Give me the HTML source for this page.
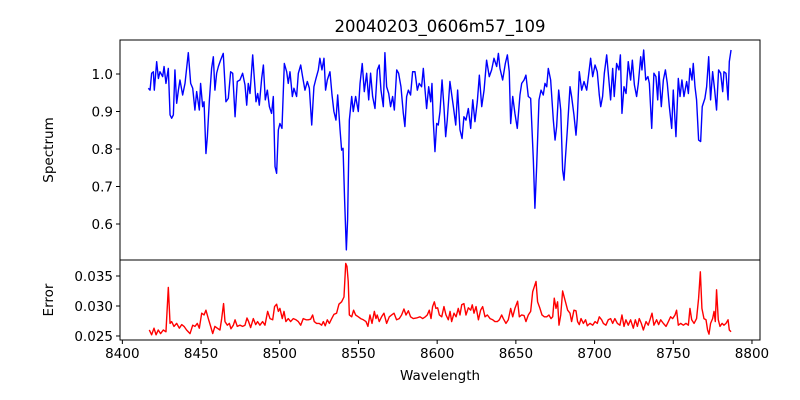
<!DOCTYPE html>
<html><head><meta charset="utf-8"><style>
body{margin:0;background:#fff;}
svg{display:block;font-family:"DejaVu Sans","Liberation Sans",sans-serif;}
</style></head><body>
<svg id="chart" width="800" height="400" viewBox="0 0 800 400" xmlns="http://www.w3.org/2000/svg">
<rect width="800" height="400" fill="#fff"/>
<text x="440" y="32" font-size="16.5" text-anchor="middle" fill="#000">20040203_0606m57_109</text>
<text transform="translate(53,150) rotate(-90)" font-size="13.5" text-anchor="middle">Spectrum</text>
<text transform="translate(53,300) rotate(-90)" font-size="13.5" text-anchor="middle">Error</text>
<text x="440" y="380" font-size="13.5" text-anchor="middle">Wavelength</text>
<g id="marks"></g>
</svg>
<script>
const specWave=[8416.5,8417.6,8418.6,8419.7,8420.3,8421.8,8422.9,8423.9,8425.6,8426.5,8427.7,8429.2,8430.3,8431.3,8432.4,8433.4,8434.5,8435.6,8436.6,8438.3,8439.8,8441.9,8443.4,8444.7,8446.1,8447.2,8448.9,8449.7,8451.0,8451.9,8453.1,8454.0,8455.3,8456.7,8457.8,8458.8,8459.9,8461.0,8462.4,8464.1,8465.8,8467.3,8468.8,8470.1,8471.6,8473.0,8474.7,8476.4,8477.9,8479.0,8480.0,8481.1,8482.8,8483.6,8484.9,8486.0,8487.0,8488.5,8489.6,8490.8,8492.1,8493.4,8494.8,8495.9,8497.0,8498.0,8499.1,8500.1,8501.4,8502.9,8504.4,8505.4,8506.5,8508.0,8509.0,8510.7,8511.8,8513.3,8514.5,8516.0,8517.5,8518.8,8520.3,8521.7,8523.0,8524.5,8525.5,8526.8,8528.1,8529.1,8530.2,8531.9,8533.2,8534.4,8535.7,8536.8,8538.3,8539.3,8540.2,8541.2,8542.3,8543.1,8544.2,8545.7,8546.7,8548.2,8549.9,8551.0,8552.4,8553.7,8555.2,8556.5,8557.7,8559.0,8560.5,8562.0,8563.2,8564.3,8565.8,8566.8,8567.9,8569.2,8570.4,8571.7,8572.8,8574.3,8575.5,8577.0,8578.5,8579.5,8580.6,8581.7,8583.1,8584.4,8585.9,8587.4,8588.6,8590.1,8591.2,8592.2,8593.3,8594.6,8595.9,8596.7,8597.5,8598.6,8599.7,8600.7,8601.8,8603.1,8604.3,8605.4,8606.4,8608.1,8610.3,8611.8,8613.0,8614.5,8615.8,8617.0,8618.3,8619.8,8621.3,8622.6,8624.0,8625.5,8626.8,8628.3,8629.8,8631.4,8633.1,8634.6,8636.1,8637.8,8638.9,8639.9,8641.6,8643.3,8644.6,8645.8,8646.7,8648.0,8649.4,8650.9,8652.6,8653.7,8655.2,8656.4,8657.9,8659.4,8661.1,8662.1,8663.2,8664.7,8666.0,8667.4,8668.5,8669.6,8670.6,8672.1,8673.8,8674.9,8675.9,8677.2,8678.5,8679.7,8680.6,8681.4,8682.7,8684.4,8685.4,8686.9,8688.2,8689.0,8690.3,8691.8,8693.3,8695.0,8696.2,8697.5,8698.8,8700.3,8701.7,8703.0,8703.9,8705.1,8706.2,8707.7,8708.9,8710.2,8711.5,8712.5,8714.0,8715.5,8716.4,8717.4,8718.7,8720.0,8721.4,8722.9,8724.0,8725.3,8726.7,8727.8,8729.3,8730.1,8731.2,8732.5,8733.9,8734.8,8736.3,8737.7,8739.0,8740.1,8740.9,8742.4,8743.7,8745.0,8746.2,8747.5,8749.0,8750.0,8751.7,8753.2,8754.3,8755.5,8756.8,8758.5,8759.6,8760.6,8761.9,8762.7,8763.8,8764.8,8766.1,8767.4,8768.4,8770.1,8771.2,8772.5,8773.7,8775.0,8776.3,8777.5,8778.8,8780.1,8781.4,8782.2,8783.5,8784.8,8785.6,8786.7];
const specFlux=[0.962,0.957,1.002,1.006,0.957,1.033,0.988,1.006,0.993,1.02,0.975,1.015,0.891,0.882,0.891,1.011,0.922,0.957,0.984,0.944,0.975,1.057,0.975,0.962,0.904,0.953,0.904,0.975,0.913,0.926,0.788,0.833,0.931,1.015,1.046,0.957,1.002,1.02,1.037,1.055,0.926,0.935,1.006,1.002,0.886,0.98,0.984,1.002,0.971,0.917,0.975,0.948,1.051,1.002,0.926,0.948,0.917,0.988,1.024,0.931,0.957,0.913,0.895,0.94,0.753,0.735,0.851,0.868,0.855,1.028,1.006,0.975,1.006,0.94,0.962,0.94,1.002,1.024,0.993,0.957,0.98,0.962,0.864,0.966,0.988,1.011,1.042,1.011,1.042,0.957,0.984,1.006,0.944,0.9,0.877,0.944,0.851,0.797,0.802,0.664,0.531,0.611,0.877,0.94,0.9,0.94,0.9,0.975,1.028,0.953,1.002,0.931,1.002,0.94,0.908,1.011,1.024,0.957,0.913,1.057,0.966,0.948,0.913,0.94,0.904,1.011,1.002,0.966,0.895,0.86,0.94,0.957,0.944,1.006,1.006,0.957,0.975,0.966,1.015,0.962,0.908,0.966,0.926,0.975,0.877,0.793,0.868,0.864,0.9,0.984,0.913,0.833,0.877,0.98,0.913,0.864,0.957,0.851,0.828,0.886,0.877,0.908,0.855,0.931,0.873,0.926,0.997,0.913,0.957,1.037,0.993,1.011,1.042,1.02,1.055,1.015,0.984,1.028,1.051,1.006,0.868,0.94,0.895,0.855,0.944,0.975,0.984,0.997,0.94,0.935,0.771,0.642,0.753,0.931,0.957,0.944,0.975,0.966,1.015,0.984,0.877,0.824,0.86,0.957,0.904,0.744,0.717,0.771,0.851,0.966,0.94,0.891,0.837,0.882,1.006,0.957,0.98,0.957,0.997,1.042,0.993,1.024,1.006,0.944,0.913,0.94,1.002,1.051,0.993,0.931,1.015,0.94,1.028,1.011,1.051,0.895,0.966,0.948,1.033,0.984,1.037,0.971,0.94,0.975,1.046,1.011,1.064,0.984,0.993,0.975,0.855,1.002,0.993,0.931,1.006,0.913,0.984,1.011,0.975,0.913,0.855,0.957,0.833,0.988,0.94,0.984,0.94,0.98,0.948,1.015,0.984,1.028,0.966,0.931,0.824,0.82,0.913,0.935,0.966,1.046,0.931,1.006,0.957,0.904,1.011,1.002,0.953,1.006,1.002,0.931,1.033,1.064];
const errWave=[8417.1,8418.6,8420.1,8421.4,8422.8,8424.3,8426.0,8427.7,8429.2,8430.3,8431.3,8432.8,8434.5,8436.2,8437.7,8439.2,8440.8,8443.0,8444.7,8446.1,8447.6,8448.9,8450.4,8451.9,8453.1,8454.6,8456.1,8457.4,8458.8,8460.3,8462.0,8463.1,8464.3,8465.2,8466.7,8468.0,8469.0,8470.5,8471.6,8473.0,8474.7,8476.4,8477.9,8479.2,8480.2,8481.5,8483.2,8484.7,8485.9,8487.4,8489.1,8490.6,8492.3,8493.8,8495.5,8496.7,8498.0,8499.1,8500.1,8501.6,8502.7,8503.9,8505.4,8506.9,8508.6,8510.3,8511.8,8513.3,8514.9,8516.7,8518.1,8519.6,8520.9,8521.9,8523.4,8525.1,8526.6,8527.7,8528.9,8530.2,8531.5,8533.0,8534.4,8536.1,8537.6,8539.3,8540.8,8541.9,8542.7,8543.5,8544.2,8545.7,8546.9,8548.2,8549.9,8551.4,8553.1,8554.8,8556.0,8557.3,8558.6,8560.1,8561.1,8561.9,8563.2,8564.7,8566.2,8567.9,8569.6,8571.1,8572.6,8574.2,8575.9,8577.4,8578.9,8580.2,8581.7,8583.1,8584.8,8586.9,8589.1,8590.8,8592.5,8593.7,8595.0,8596.1,8597.1,8598.2,8599.2,8600.3,8601.4,8602.9,8604.3,8605.6,8607.1,8608.2,8609.2,8610.7,8612.0,8613.4,8614.5,8615.6,8617.0,8618.3,8619.8,8621.3,8622.3,8623.4,8624.7,8626.2,8627.6,8628.9,8630.4,8631.9,8633.6,8635.3,8636.7,8638.2,8639.5,8641.0,8642.0,8643.7,8645.2,8646.7,8648.0,8649.4,8651.1,8652.2,8653.7,8655.2,8656.4,8657.9,8659.4,8660.7,8661.7,8662.8,8663.8,8665.3,8666.6,8668.1,8669.6,8671.0,8672.3,8673.4,8674.4,8675.5,8676.5,8677.4,8678.5,8679.7,8680.6,8681.8,8682.9,8684.4,8685.4,8686.9,8688.2,8689.2,8690.3,8691.4,8692.9,8694.3,8695.4,8697.1,8698.8,8700.3,8701.7,8703.0,8704.5,8705.6,8707.2,8708.7,8710.2,8711.5,8712.9,8714.5,8716.1,8717.4,8718.7,8719.9,8721.4,8722.9,8724.6,8725.9,8727.2,8728.4,8729.7,8731.0,8732.7,8734.1,8735.2,8736.5,8737.7,8739.4,8740.7,8742.0,8743.7,8745.4,8746.9,8748.3,8749.6,8751.1,8752.1,8753.2,8754.7,8756.4,8758.1,8759.6,8760.6,8761.7,8763.2,8764.8,8766.1,8767.2,8768.2,8769.5,8770.8,8771.8,8772.7,8773.7,8775.0,8775.9,8776.7,8777.5,8778.6,8779.7,8781.0,8782.2,8783.5,8784.8,8785.6,8786.7];
const errVal=[0.0260,0.0252,0.0263,0.0252,0.0260,0.0254,0.0260,0.0257,0.0331,0.0271,0.0274,0.0266,0.0271,0.0263,0.0269,0.0266,0.0260,0.0254,0.0268,0.0266,0.0271,0.0263,0.0288,0.0285,0.0293,0.0279,0.0266,0.0254,0.0266,0.0263,0.0260,0.0279,0.0304,0.0274,0.0268,0.0271,0.0262,0.0268,0.0277,0.0266,0.0268,0.0266,0.0268,0.0280,0.0274,0.0264,0.0279,0.0269,0.0274,0.0268,0.0274,0.0268,0.0291,0.0279,0.0277,0.0299,0.0303,0.0291,0.0296,0.0279,0.0291,0.0274,0.0279,0.0274,0.0279,0.0277,0.0274,0.0268,0.0279,0.0277,0.0277,0.0278,0.0285,0.0274,0.0271,0.0271,0.0268,0.0274,0.0267,0.0277,0.0271,0.0279,0.0286,0.0288,0.0303,0.0307,0.0315,0.0371,0.0366,0.0341,0.0285,0.0282,0.0293,0.0285,0.0282,0.0279,0.0277,0.0274,0.0266,0.0285,0.0271,0.0291,0.0279,0.0285,0.0274,0.0282,0.0288,0.0271,0.0282,0.0285,0.0288,0.0277,0.0279,0.0285,0.0295,0.0285,0.0292,0.0282,0.0279,0.0280,0.0282,0.0279,0.0282,0.0285,0.0293,0.0279,0.0299,0.0307,0.0296,0.0297,0.0285,0.0282,0.0299,0.0285,0.0277,0.0291,0.0274,0.0288,0.0282,0.0296,0.0285,0.0302,0.0304,0.0285,0.0297,0.0293,0.0302,0.0288,0.0299,0.0277,0.0293,0.0299,0.0282,0.0285,0.0279,0.0277,0.0274,0.0274,0.0277,0.0285,0.0279,0.0271,0.0277,0.0296,0.0282,0.0296,0.0308,0.0282,0.0285,0.0284,0.0274,0.0285,0.0291,0.0324,0.0332,0.0341,0.0307,0.0296,0.0285,0.0282,0.0282,0.0285,0.0279,0.0282,0.0313,0.0296,0.0307,0.0268,0.0285,0.0325,0.0316,0.0304,0.0293,0.0288,0.0274,0.0293,0.0292,0.0274,0.0269,0.0279,0.0271,0.0277,0.0267,0.0271,0.0268,0.0274,0.0271,0.0282,0.0277,0.0271,0.0268,0.0277,0.0279,0.0271,0.0279,0.0271,0.0268,0.0285,0.0266,0.0277,0.0268,0.0277,0.0263,0.0277,0.0266,0.0279,0.0271,0.0260,0.0274,0.0268,0.0277,0.0288,0.0268,0.0277,0.0269,0.0277,0.0271,0.0266,0.0274,0.0282,0.0279,0.0285,0.0293,0.0268,0.0271,0.0268,0.0271,0.0268,0.0296,0.0277,0.0271,0.0279,0.0313,0.0357,0.0296,0.0279,0.0277,0.0260,0.0253,0.0271,0.0279,0.0291,0.0274,0.0327,0.0277,0.0266,0.0271,0.0268,0.0271,0.0277,0.0260,0.0257];
const xTicks=[8400,8450,8500,8550,8600,8650,8700,8750,8800];
const specTicks=[0.6,0.7,0.8,0.9,1.0];
const specTickLabels=["0.6","0.7","0.8","0.9","1.0"];
const errTicks=[0.025,0.030,0.035];
const errTickLabels=["0.025","0.030","0.035"];

const NS="http://www.w3.org/2000/svg";
const L=120,R=760;
const xMin=8398.5,xMax=8805.1;
const top1=40,bot1=260,yMin1=0.504,yMax1=1.0907;
const top2=260,bot2=340,yMin2=0.02433,yMax2=0.03767;
const sx=v=>L+(v-xMin)/(xMax-xMin)*(R-L);
const sy1=v=>bot1-(v-yMin1)/(yMax1-yMin1)*(bot1-top1);
const sy2=v=>bot2-(v-yMin2)/(yMax2-yMin2)*(bot2-top2);
const g=document.getElementById('marks');
function mk(tag,attrs){const e=document.createElementNS(NS,tag);for(const k in attrs)e.setAttribute(k,attrs[k]);g.appendChild(e);return e;}

let p=mk('polyline',{points:specWave.map((w,i)=>sx(w).toFixed(2)+','+sy1(specFlux[i]).toFixed(2)).join(' '),fill:'none',stroke:'#0000ff','stroke-width':1.4,'stroke-linejoin':'round'});


p=mk('polyline',{points:errWave.map((w,i)=>sx(w).toFixed(2)+','+sy2(errVal[i]).toFixed(2)).join(' '),fill:'none',stroke:'#ff0000','stroke-width':1.4,'stroke-linejoin':'round'});



let f=mk('rect',{x:L,y:top1,width:R-L,height:bot1-top1,fill:'none',stroke:'#000','stroke-width':1});


f=mk('rect',{x:L,y:top2,width:R-L,height:bot2-top2,fill:'none',stroke:'#000','stroke-width':1});



xTicks.forEach(t=>{const x=sx(t);
 const l=mk('line',{x1:x,x2:x,y1:bot2,y2:bot2+4,stroke:'#000'});
 
 
 const tx=mk('text',{x:x,y:bot2+18,'font-size':13.5,'text-anchor':'middle'});tx.textContent=t;
 
 
});
specTicks.forEach((t,i)=>{const y=sy1(t);
 const l=mk('line',{x1:L-4,x2:L,y1:y,y2:y,stroke:'#000'});
 
 
 const tx=mk('text',{x:L-7,y:y+5,'font-size':13.5,'text-anchor':'end'});tx.textContent=specTickLabels[i];
 
 
});
errTicks.forEach((t,i)=>{const y=sy2(t);
 const l=mk('line',{x1:L-4,x2:L,y1:y,y2:y,stroke:'#000'});
 
 
 const tx=mk('text',{x:L-7,y:y+5,'font-size':13.5,'text-anchor':'end'});tx.textContent=errTickLabels[i];
 
 
});
</script>
</body></html>
